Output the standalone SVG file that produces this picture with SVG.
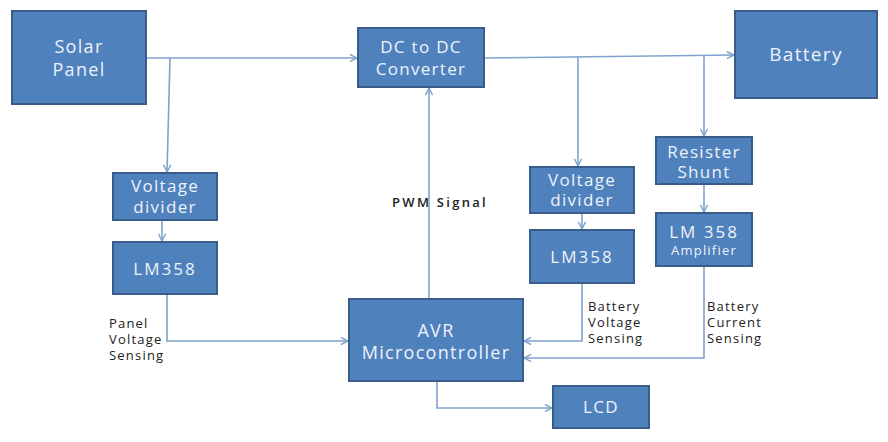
<svg xmlns="http://www.w3.org/2000/svg" width="888" height="442" viewBox="0 0 888 442">
<defs>
<style>
.box{fill:#4F81BD;stroke:#385D8A;stroke-width:2}
.t{font-family:"Open Sans","Liberation Sans",sans-serif;fill:#EEF2FA;text-anchor:middle;letter-spacing:1.3px}
.c{fill:none;stroke:#7FA3CF;stroke-width:1.6}
.lab{font-family:"Open Sans","Liberation Sans",sans-serif;fill:#222;font-size:13px;letter-spacing:1.2px}
</style>
<marker id="a" viewBox="0 0 10 10" refX="9" refY="5" markerWidth="9" markerHeight="9" markerUnits="userSpaceOnUse" orient="auto">
<path d="M1,1 L9,5 L1,9" fill="none" stroke="#7FA3CF" stroke-width="1.6"/>
</marker>
</defs>
<rect width="888" height="442" fill="#fff"/>
<g id="connectors">
<path class="c" d="M146,58 L357,58" marker-end="url(#a)"/>
<path class="c" d="M170,58 L167,172" marker-end="url(#a)"/>
<path class="c" d="M484,58 L734,55" marker-end="url(#a)"/>
<path class="c" d="M578,57 L578,166" marker-end="url(#a)"/>
<path class="c" d="M704,56 L704,136" marker-end="url(#a)"/>
<path class="c" d="M162,220 L162,241" marker-end="url(#a)"/>
<path class="c" d="M582,213 L582,229" marker-end="url(#a)"/>
<path class="c" d="M704,184 L704,212" marker-end="url(#a)"/>
<path class="c" d="M429,298 L429,88" marker-end="url(#a)"/>
<path class="c" d="M167,294 L167,341 L348,341" marker-end="url(#a)"/>
<path class="c" d="M582,283 L582,341 L524,341" marker-end="url(#a)"/>
<path class="c" d="M704,266 L704,358 L524,358" marker-end="url(#a)"/>
<path class="c" d="M437,381 L437,408 L552,408" marker-end="url(#a)"/>
</g>
<g id="solar"><rect class="box" x="12" y="11" width="134" height="93"/><text class="t" font-size="18" x="79" y="53">Solar<tspan x="79" dy="23">Panel</tspan></text></g>
<g id="dcdc"><rect class="box" x="358" y="28" width="126" height="59"/><text class="t" font-size="17" x="421" y="53">DC to DC<tspan x="421" dy="22">Converter</tspan></text></g>
<g id="battery"><rect class="box" x="735" y="11" width="142" height="87"/><text class="t" font-size="19" x="806" y="61">Battery</text></g>
<g id="vdiv1"><rect class="box" x="113" y="173" width="104" height="47"/><text class="t" font-size="17" x="165" y="192">Voltage<tspan x="165" dy="21">divider</tspan></text></g>
<g id="lm1"><rect class="box" x="113" y="242" width="104" height="52"/><text class="t" font-size="17" x="165" y="275" style="letter-spacing:2px">LM358</text></g>
<g id="vdiv2"><rect class="box" x="530" y="167" width="104" height="46"/><text class="t" font-size="17" x="582" y="186">Voltage<tspan x="582" dy="20">divider</tspan></text></g>
<g id="lm2"><rect class="box" x="530" y="230" width="104" height="53"/><text class="t" font-size="17" x="582" y="263" style="letter-spacing:2px">LM358</text></g>
<g id="shunt"><rect class="box" x="656" y="137" width="96" height="47"/><text class="t" font-size="17" x="704" y="158">Resister<tspan x="704" dy="20">Shunt</tspan></text></g>
<g id="lm3"><rect class="box" x="656" y="213" width="96" height="53"/><text class="t" font-size="17" x="704" y="238" style="letter-spacing:2px">LM 358<tspan x="704" dy="17" font-size="13" style="letter-spacing:1.2px">Amplifier</tspan></text></g>
<g id="avr"><rect class="box" x="349" y="299" width="174" height="82"/><text class="t" font-size="18" x="436" y="337">AVR<tspan x="436" dy="22">Microcontroller</tspan></text></g>
<g id="lcd"><rect class="box" x="553" y="386" width="96" height="42"/><text class="t" font-size="17" x="601" y="413">LCD</text></g>
<g id="labels">
<text class="lab" x="392" y="207" font-weight="600" style="letter-spacing:2.3px">PWM Signal</text>
<text class="lab" x="109" y="328">Panel<tspan x="109" dy="16">Voltage</tspan><tspan x="109" dy="16">Sensing</tspan></text>
<text class="lab" x="588" y="311">Battery<tspan x="588" dy="16">Voltage</tspan><tspan x="588" dy="16">Sensing</tspan></text>
<text class="lab" x="707" y="311">Battery<tspan x="707" dy="16">Current</tspan><tspan x="707" dy="16">Sensing</tspan></text>
</g>
</svg>
